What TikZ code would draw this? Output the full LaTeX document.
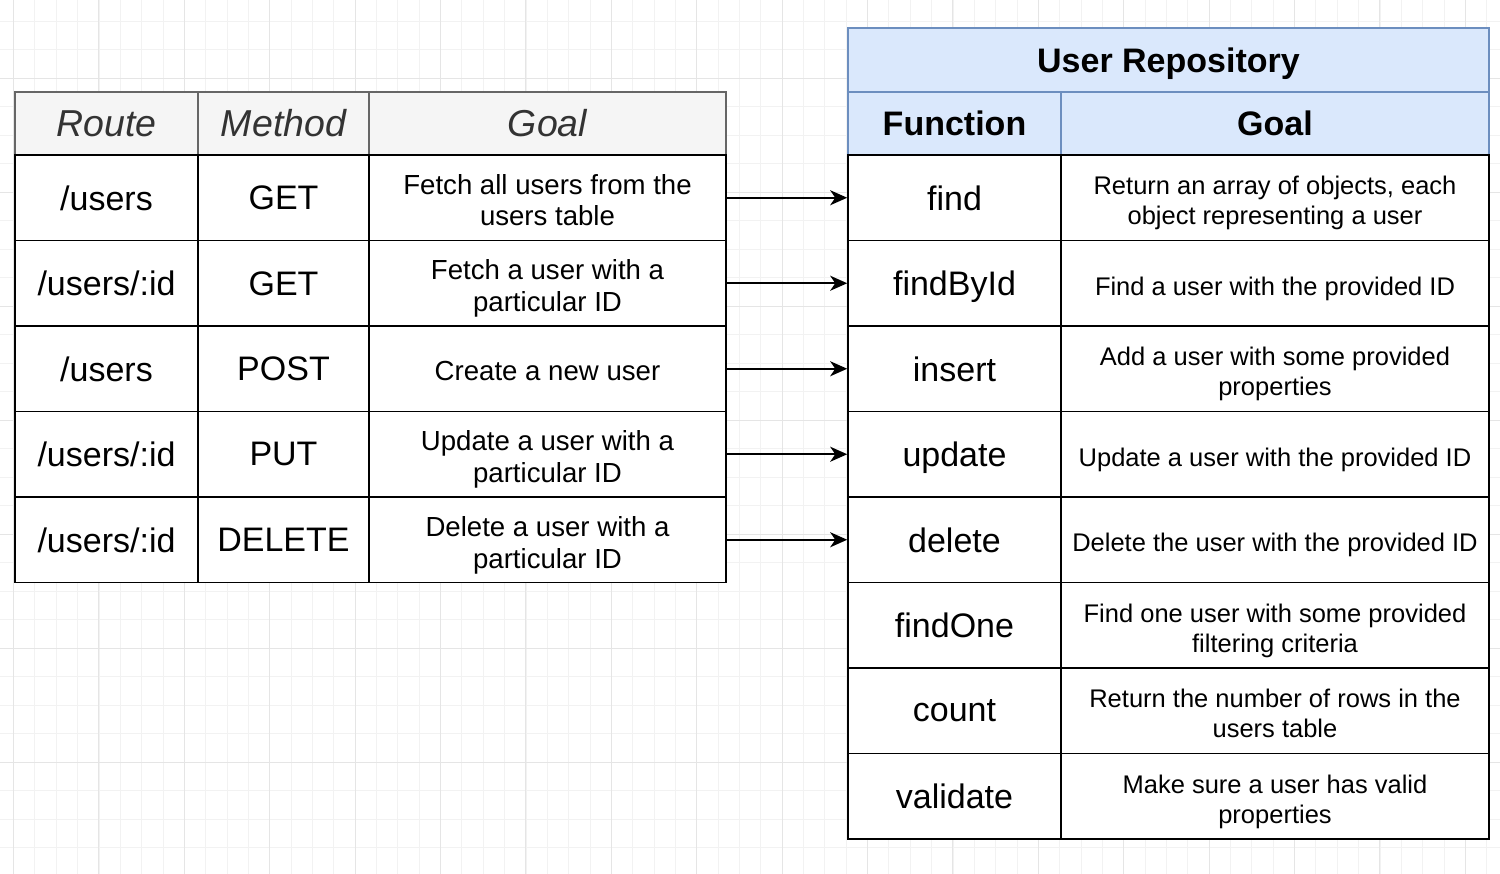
\documentclass[tikz,border=0pt]{standalone}
\usepackage{fontspec}
\setmainfont{Liberation Sans}
\usetikzlibrary{arrows.meta, positioning}
\definecolor{hdrgray}{HTML}{F5F5F5}
\definecolor{hdrline}{HTML}{666666}
\definecolor{hdrtext}{HTML}{333333}
\definecolor{repofill}{HTML}{DAE8FC}
\definecolor{repoline}{HTML}{6C8EBF}
\tikzset{
  cell/.style={draw=black, line width=1.6pt, fill=white, minimum height=85.5pt, inner sep=0pt, align=center},
  lhead/.style={draw=hdrline, line width=1.2pt, fill=hdrgray, text=hdrtext, minimum height=63pt, inner sep=0pt, font=\fontsize{37.5}{40}\selectfont\itshape},
  rhead/.style={draw=repoline, line width=1.2pt, fill=repofill, minimum height=63pt, inner sep=0pt, text depth=0pt, font=\fontsize{34}{38}\selectfont\bfseries},
  bigtext/.style={text depth=0pt, font=\fontsize{34}{38}\selectfont},
  ltext/.style={inner sep=0pt, align=center, text depth=0pt, font=\fontsize{27.6}{31.5}\selectfont},
  rtext/.style={inner sep=0pt, align=center, text depth=0pt, font=\fontsize{25.5}{30}\selectfont},
  link/.style={-{Stealth[length=17pt,width=15pt,inset=5pt]}, line width=1.8pt},
  gridminor/.style={draw=black!5, line width=0.6pt},
  gridmajor/.style={draw=black!10, line width=0.7pt},
}

\begin{document}
\begin{tikzpicture}[x=1pt, y=-1pt]
\fill[white] (0,0) rectangle (1500,874);
\useasboundingbox (0,0) rectangle (1500,874);
% background grid
\foreach \gx in {-7.95,13.4,...,1500} \draw[gridminor] (\gx,0) -- (\gx,874);
\foreach \gy in {21,49.5,...,874} \draw[gridminor] (0,\gy) -- (1500,\gy);
\foreach \gx in {13.4,98.8,...,1500} \draw[gridmajor] (\gx,0) -- (\gx,874);
\foreach \gy in {78,192,...,874} \draw[gridmajor] (0,\gy) -- (1500,\gy);

% routes table
\node[lhead, minimum width=183pt] (hroute) at (106.5,123.5) {Route};
\node[lhead, minimum width=171pt] (hmethod) at (283.5,123.5) {Method};
\node[lhead, minimum width=357pt] (hgoal) at (547.5,123.5) {Goal};
\foreach \rt/\mt/\gl [count=\i] in {
  {/users}/GET/{Fetch all users from the\\users table},
  {/users/:id}/GET/{Fetch a user with a\\particular ID},
  {/users}/POST/{Create a new user},
  {/users/:id}/PUT/{Update a user with a\\particular ID},
  {/users/:id}/DELETE/{Delete a user with a\\particular ID}}{
  \pgfmathsetmacro\ry{155+85.5*(\i-0.5)}
  \node[cell, bigtext, minimum width=183pt] (route\i) at (106.5,\ry) {\rt};
  \node[cell, bigtext, minimum width=171pt] (method\i) at (283.5,\ry) {\mt};
  \node[cell, minimum width=357pt] (goal\i) at (547.5,\ry) {};
  \node[ltext] (goaltext\i) at ([yshift=-2.5pt]goal\i.center) {\gl};
}

% repository table
\node[rhead, minimum width=641pt, minimum height=64pt] (repo) at (1168.5,60) {User Repository};
\node[rhead, minimum width=213pt] (hfunc) at (954.5,123.5) {Function};
\node[rhead, minimum width=428pt] (hrgoal) at (1275,123.5) {Goal};
\foreach \fn/\gl [count=\i] in {
  find/{Return an array of objects, each\\object representing a user},
  findById/{Find a user with the provided ID},
  insert/{Add a user with some provided\\properties},
  update/{Update a user with the provided ID},
  delete/{Delete the user with the provided ID},
  findOne/{Find one user with some provided\\filtering criteria},
  count/{Return the number of rows in the\\users table},
  validate/{Make sure a user has valid\\properties}}{
  \pgfmathsetmacro\ry{155+85.5*(\i-0.5)}
  \node[cell, bigtext, minimum width=213pt] (func\i) at (954.5,\ry) {\fn};
  \node[cell, minimum width=428pt] (repogoal\i) at (1275,\ry) {};
  \node[rtext] (repotext\i) at ([yshift=-3pt]repogoal\i.center) {\gl};
}

% route -> function
\foreach \i in {1,...,5} \draw[link] (goal\i.east) -- (func\i.west);
\end{tikzpicture}
\end{document}
